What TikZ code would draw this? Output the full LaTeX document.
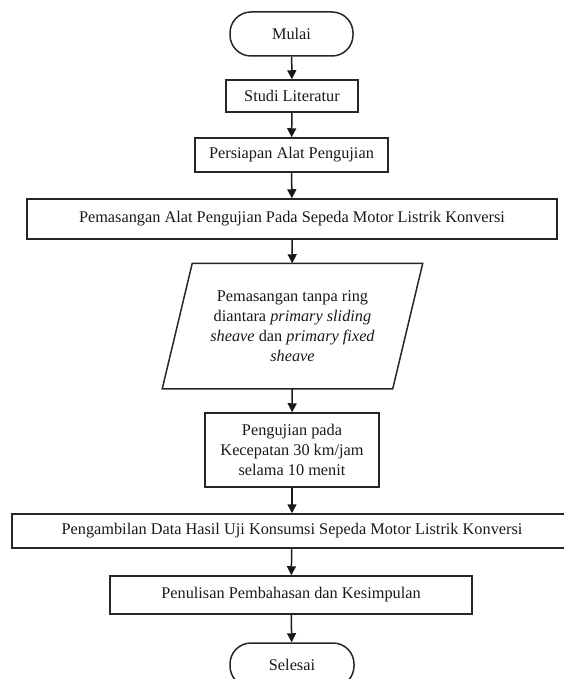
\documentclass[tikz,border=0pt]{standalone}
\usepackage{fontspec}
\setmainfont{Liberation Serif}
\usetikzlibrary{arrows.meta,calc}
\begin{document}
\begin{tikzpicture}[x=1pt,y=-1pt,
  base/.style={line width=1.5pt, align=center, font=\fontsize{16.3}{20}\selectfont, inner sep=0pt, text=black!90},
  term/.style={base, draw=black!85, rounded corners=21pt},
  proc/.style={base, draw=black!85},
  flow/.style={draw=black!90, line width=1.5pt, -{Triangle[length=9pt,width=9pt]}}]
\useasboundingbox (0,0) rectangle (564,679);
\node[term, minimum width=123pt, minimum height=44pt] (mulai) at (291.5,34) {Mulai};
\node[proc, minimum width=132pt, minimum height=32pt] (studi) at (292,96) {Studi Literatur};
\node[proc, minimum width=193pt, minimum height=34pt] (persiapan) at (291.5,155) {Persiapan Alat Pengujian};
\node[proc, minimum width=530pt, minimum height=40pt] (pasang) at (292,219) {Pemasangan Alat Pengujian Pada Sepeda Motor Listrik Konversi};
\node[base, minimum width=229pt, minimum height=124pt] (para) at (292.5,326)
  {Pemasangan tanpa ring\\diantara \textit{primary sliding}\\\textit{sheave} dan \textit{primary fixed}\\\textit{sheave}};
\draw[line width=1.5pt, draw=black!85, line join=miter]
  ($(para.north west)+(15,0)$) -- ($(para.north east)+(15,0)$) --
  ($(para.south east)+(-15,0)$) -- ($(para.south west)+(-15,0)$) -- cycle;
\node[proc, minimum width=174pt, minimum height=74pt] (uji) at (292,450)
  {Pengujian pada\\Kecepatan 30 km/jam\\selama 10 menit};
\node[proc, minimum width=560pt, minimum height=34pt] (ambil) at (292,531) {Pengambilan Data Hasil Uji Konsumsi Sepeda Motor Listrik Konversi};
\node[proc, minimum width=362pt, minimum height=38pt] (tulis) at (291,595) {Penulisan Pembahasan dan Kesimpulan};
\node[term, minimum width=124pt, minimum height=44pt] (selesai) at (292,665) {Selesai};
\draw[flow] (mulai) -- (studi);
\draw[flow] (studi) -- (persiapan);
\draw[flow] (persiapan) -- (pasang);
\draw[flow] (pasang) -- (para);
\draw[flow] (para) -- (uji);
\draw[flow] (uji) -- (ambil);
\draw[flow] (ambil) -- (tulis);
\draw[flow] (tulis) -- (selesai);
\end{tikzpicture}
\end{document}
